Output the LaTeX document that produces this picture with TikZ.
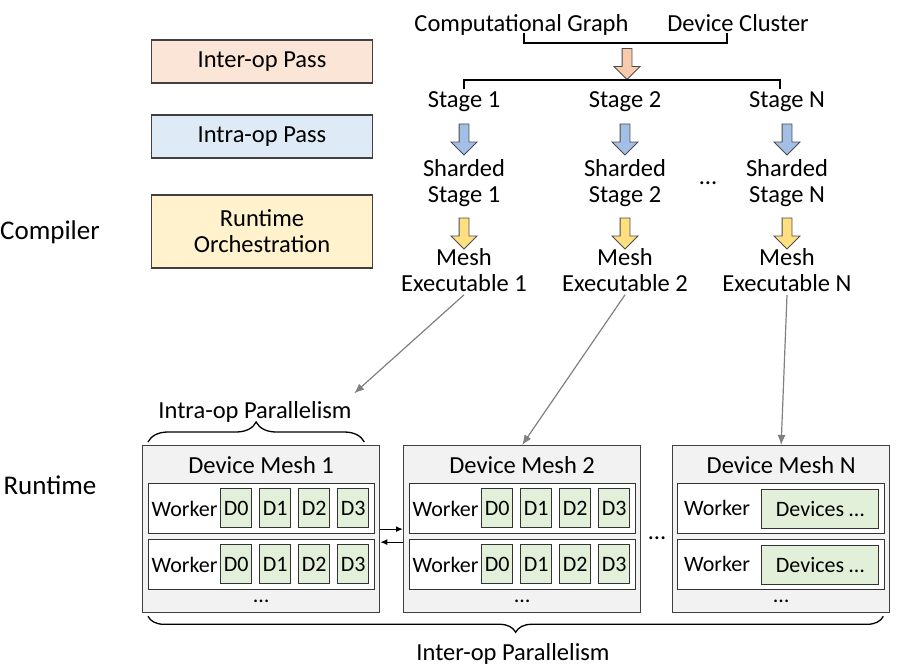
\documentclass[tikz,border=0pt]{standalone}
\usepackage{fontspec}
\setmainfont{Carlito}
\usepackage{xcolor}
\usepackage{tikz}
\usetikzlibrary{positioning,calc}
\usetikzlibrary{shapes.arrows,decorations.pathreplacing,arrows.meta}

\definecolor{interfill}{HTML}{FBE5D6}
\definecolor{intrafill}{HTML}{DEEBF7}
\definecolor{orchfill}{HTML}{FFF2CC}
\definecolor{interarrow}{HTML}{F8CBAD}
\definecolor{intraarrow}{HTML}{A4BFE6}
\definecolor{orcharrow}{HTML}{FFDF80}
\definecolor{meshfill}{HTML}{F2F2F2}
\definecolor{devfill}{HTML}{E2F0D9}

\begin{document}
\begin{tikzpicture}[x=1pt, y=-1pt, line width=1.3pt, inner sep=2pt,
  font=\fontsize{24.5}{26}\selectfont,
  passbox/.style={draw=black!75, minimum width=221pt, inner sep=0pt, align=center},
  sidelabel/.style={font=\fontsize{27}{29}\selectfont},
  blockarrow/.style={single arrow, draw=black!70, line width=0.8pt, shape border rotate=270,
    minimum height=31pt, minimum width=24pt, inner sep=4.5pt, single arrow head extend=8pt},
  meshbox/.style={draw=black!75, fill=meshfill, minimum height=167pt, inner sep=0pt},
  workerbox/.style={draw=black!80, fill=white, minimum height=50pt, inner sep=0pt},
  devbox/.style={draw=black!80, fill=devfill, minimum width=31pt, minimum height=39pt,
    inner sep=0pt, font=\fontsize{22}{24}\selectfont},
  small/.style={font=\fontsize{22}{24}\selectfont},
  feed/.style={-{Latex[length=10pt,width=8pt]}, draw=black!50, line width=1.2pt},
  >={Latex[length=7pt,width=6pt]}]
\useasboundingbox (0,0) rectangle (911,671);

% passes on the left
\node[passbox, fill=interfill, minimum height=43pt] (inter) at (262,61.5) {Inter-op Pass};
\node[passbox, fill=intrafill, minimum height=43pt, below of=inter, node distance=75pt] (intra) {Intra-op Pass};
\node[passbox, fill=orchfill, minimum height=73pt, below of=intra, node distance=95pt] (orch) {Runtime\\Orchestration};
\node[sidelabel, anchor=base] (comp) at (50,240) {Compiler};
\node[sidelabel, anchor=base] (rt) at (50,494) {Runtime};

% compiler
\node[anchor=base] (cg) at (521.5,32) {Computational Graph};
\node[anchor=base] (dc) at (738,32) {Device Cluster};
\coordinate (cgb) at (524,33);
\coordinate (dcb) at (727,33);
\draw (cgb) -- ++(0,10) -| (dcb);
\node[blockarrow, fill=interarrow] (ia) at (627,61.5) {};
\foreach \i/\x in {1/464, 2/625, N/787} {
  \node[anchor=base] (s\i) at (\x,108) {Stage \i};
  \node[blockarrow, fill=intraarrow] (b\i) at (\x,137) {};
  \node[anchor=base, align=center] (sh\i) at (\x,203) {Sharded\\Stage \i};
  \node[blockarrow, fill=orcharrow] (y\i) at (\x,231) {};
  \node[anchor=base, align=center] (me\i) at (\x,292) {Mesh\\Executable \i};
}
\draw (s1.north) |- (ia.tip) -| ([xshift=-7pt]sN.north);
\node[anchor=base] (sd) at (708,185) {…};

% runtime
\foreach \m/\x in {1/142, 2/403} {
  \node[meshbox, minimum width=237pt, anchor=north west] (m\m) at (\x,445) {};
  \node[anchor=base] (t\m) at ($(m\m.north)+(0,28)$) {Device Mesh \m};
  \foreach \r/\y in {1/483, 2/539} {
    \node[workerbox, minimum width=226pt, anchor=north west] (w\m\r) at (\x+6,\y) {};
    \node[small, anchor=west, inner sep=3pt] (l\m\r) at (w\m\r.west) {Worker};
    \foreach \d in {0,...,3}
      \node[devbox, anchor=north west] (d\m\r\d) at (\x+78+\d*39,\y+5) {D\d};
  }
  \node[small, anchor=base] (e\m) at ($(m\m.south)+(0,-11)$) {…};
}
\node[meshbox, minimum width=217pt, anchor=north west] (mN) at (672,445) {};
\node[anchor=base] (tN) at ($(mN.north)+(0,28)$) {Device Mesh N};
\foreach \r/\y in {1/483, 2/539} {
  \node[workerbox, minimum width=207pt, anchor=north west] (wN\r) at (677,\y) {};
  \node[small] (lN\r) at (717,\y+25) {Worker};
  \node[devbox, minimum width=117pt, anchor=north west] (dN\r) at (761,\y+6) {Devices …};
}
\node[small, anchor=base] (eN) at ($(mN.south)+(0,-11)$) {…};
\node[anchor=base] (md) at (657,539) {…};

\draw[->] (m1.east) -- (m2.west);
\draw[->] ([yshift=-13pt]m2.west) -- ([yshift=-13pt]m1.east);

% parallelism braces
\draw[decorate, decoration={brace, amplitude=20pt}] ([xshift=6pt,yshift=3pt]m1.north west) -- ([xshift=-16pt,yshift=3pt]m1.north east);
\node[anchor=base] (ipl) at (255,418) {Intra-op Parallelism};
\draw[decorate, decoration={brace, amplitude=16pt}] ([xshift=-7pt,yshift=-3pt]mN.south east) -- ([xshift=6pt,yshift=-3pt]m1.south west);
\node[anchor=base] (xpl) at (513,660) {Inter-op Parallelism};

\draw[feed] (me1.south) -- ([yshift=5pt]ipl.north east);
\draw[feed] (me2.south) -- (m2.north);
\draw[feed] (meN.south) -- (mN.north);
\end{tikzpicture}
\end{document}
